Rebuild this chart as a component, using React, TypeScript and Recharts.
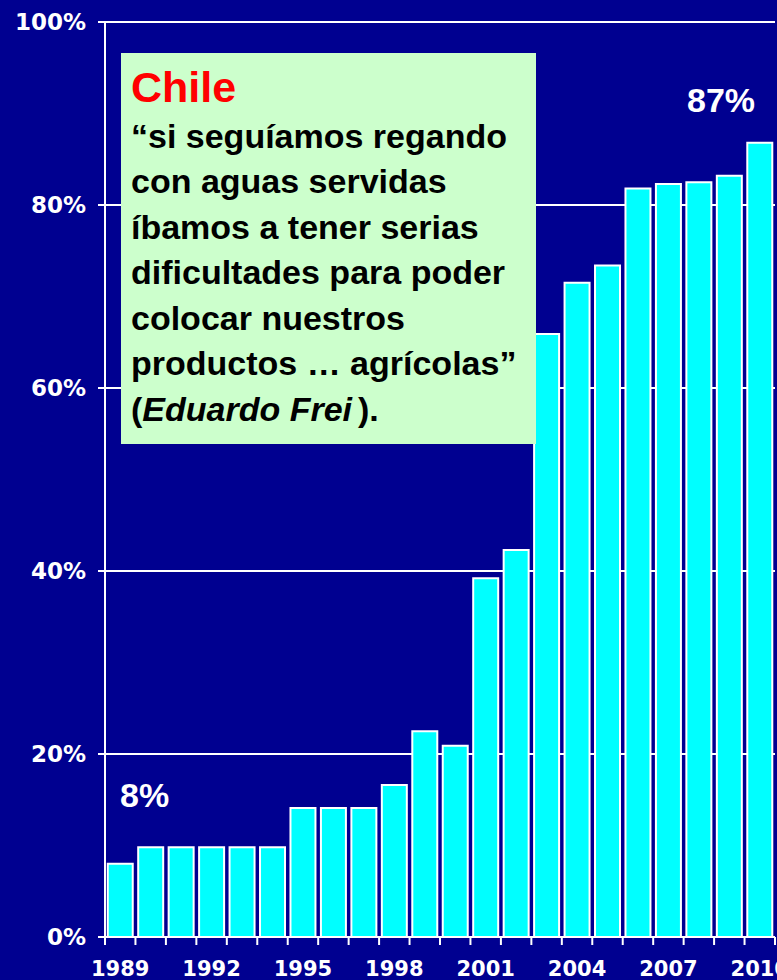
import { BarChart, Bar, XAxis, YAxis, CartesianGrid } from 'recharts';

const years = [
    '1989', '1990', '1991', '1992', '1993', '1994', '1995', '1996', '1997', '1998', '1999',
    '2000', '2001', '2002', '2003', '2004', '2005', '2006', '2007', '2008', '2009', '2010',
];
const shares = [
    8.0, 9.8, 9.8, 9.8, 9.8, 9.8, 14.1, 14.1, 14.1, 16.6, 22.5,
    20.9, 39.2, 42.3, 65.9, 71.5, 73.4, 81.8, 82.3, 82.5, 83.2, 86.8,
];
const yTicks = [0, 20, 40, 60, 80, 100];
const labelledYears = ['1989', '1992', '1995', '1998', '2001', '2004', '2007', '2010'];

const quoteLines = [
    '“si seguíamos regando',
    'con aguas servidas',
    'íbamos a tener serias',
    'dificultades para poder',
    'colocar nuestros',
    'productos … agrícolas”',
];

const data = years.map((year, i) => ({ year, share: shares[i] }));

const NAVY = '#000090';
const AXIS_FONT = '"DejaVu Sans", Verdana, sans-serif';
const BOX_FONT = '"Liberation Sans", Arial, sans-serif';
const W = 777;
const H = 980;
const LEFT = 105;
const RIGHT = 2;

// category tick: tick mark on the band boundary, label only every 3 years
function YearTick(props: any) {
    const { x, y, payload, index } = props;
    const half = payload?.offset ?? (W - LEFT - RIGHT) / years.length / 2;
    const last = index === years.length - 1;
    return (
        <g>
            <line x1={x - half} x2={x - half} y1={y} y2={y + 8} stroke="#fff" strokeWidth={2} />
            {last && <line x1={x + half} x2={x + half} y1={y} y2={y + 8} stroke="#fff" strokeWidth={2} />}
            {labelledYears.includes(payload.value) && (
                <text
                    x={x}
                    y={y + 39}
                    textAnchor="middle"
                    fill="#fff"
                    fontFamily={AXIS_FONT}
                    fontWeight="bold"
                    fontSize={21}
                >
                    {payload.value}
                </text>
            )}
        </g>
    );
}

export default function App() {
    return (
        <div style={{ position: 'absolute', left: 0, top: 0, width: W, height: H, background: NAVY, overflow: 'hidden' }}>
            <BarChart
                width={W}
                height={H}
                data={data}
                margin={{ top: 22, right: RIGHT, bottom: 0, left: 0 }}
                barCategoryGap="9%"
            >
                <CartesianGrid vertical={false} stroke="#fff" strokeWidth={2} />
                <XAxis
                    dataKey="year"
                    height={43}
                    interval={0}
                    tickSize={0}
                    tickMargin={0}
                    tickLine={false}
                    axisLine={{ stroke: '#fff', strokeWidth: 2 }}
                    tick={<YearTick />}
                />
                <YAxis
                    width={LEFT}
                    domain={[0, 100]}
                    ticks={yTicks}
                    tickFormatter={(v) => `${v}%`}
                    tickSize={7}
                    tickMargin={12}
                    tickLine={{ stroke: '#fff', strokeWidth: 2 }}
                    axisLine={{ stroke: '#fff', strokeWidth: 2 }}
                    tick={{ fill: '#fff', fontFamily: AXIS_FONT, fontWeight: 'bold', fontSize: 23 }}
                />
                <YAxis
                    yAxisId="r"
                    orientation="right"
                    width={0}
                    domain={[0, 100]}
                    tick={false}
                    tickLine={false}
                    axisLine={{ stroke: '#a8a8e8', strokeWidth: 1 }}
                />
                <Bar dataKey="share" fill="#00ffff" stroke="#fff" strokeWidth={2} isAnimationActive={false} />
            </BarChart>

            <div
                style={{
                    position: 'absolute',
                    left: 121,
                    top: 53,
                    width: 415,
                    height: 391,
                    background: '#ccffcc',
                    fontFamily: BOX_FONT,
                    fontWeight: 'bold',
                    color: '#000',
                    boxSizing: 'border-box',
                    paddingLeft: 10,
                    paddingTop: 7.5,
                    whiteSpace: 'nowrap',
                }}
            >
                <div style={{ color: '#ff0000', fontSize: 43, lineHeight: '53px' }}>Chile</div>
                {quoteLines.map((line) => (
                    <div key={line} style={{ fontSize: 34, lineHeight: '45.5px' }}>
                        {line}
                    </div>
                ))}
                <div style={{ fontSize: 34, lineHeight: '45.5px' }}>
                    (<i style={{ marginRight: 6 }}>Eduardo Frei</i>).
                </div>
            </div>

            <div
                style={{
                    position: 'absolute',
                    left: 687,
                    top: 81,
                    fontFamily: BOX_FONT,
                    fontWeight: 'bold',
                    fontSize: 34,
                    lineHeight: '38px',
                    color: '#fff',
                }}
            >
                87%
            </div>
            <div
                style={{
                    position: 'absolute',
                    left: 120,
                    top: 776,
                    fontFamily: BOX_FONT,
                    fontWeight: 'bold',
                    fontSize: 34,
                    lineHeight: '38px',
                    color: '#fff',
                }}
            >
                8%
            </div>
        </div>
    );
}
